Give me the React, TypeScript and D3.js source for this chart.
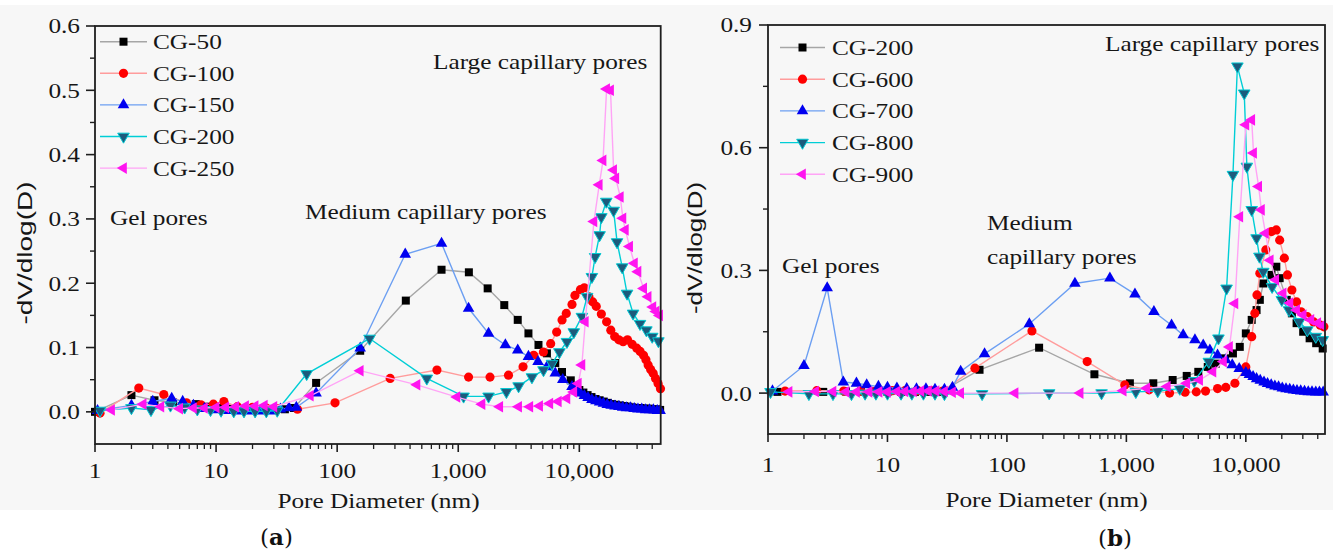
import React from 'react';
import * as d3 from 'd3';

type Pt = [number, number];

// ---------- Panel (a) data: [pore diameter (nm), -dV/dlog(D)] ----------
const A_CG50: Pt[] = [
  [1, 0], [2, 0.026], [3.1, 0.018], [4.4, 0.015], [5.5, 0.013], [6.8, 0.012], [8.5, 0.008], [10.5, 0.006],
  [13, 0.005], [16, 0.004], [20, 0.003], [25, 0.003], [31, 0.003], [37, 0.004], [44, 0.006], [67, 0.045],
  [155, 0.095], [369, 0.173], [728, 0.221], [1224, 0.217], [1750, 0.192], [2400, 0.166], [3100, 0.143],
  [3800, 0.122], [4600, 0.104], [5400, 0.091], [6330, 0.076], [7190, 0.062], [8500, 0.049], [9300, 0.039],
  [10000, 0.034], [10800, 0.03], [11700, 0.026], [12600, 0.023], [13600, 0.02], [14700, 0.018], [15900, 0.016],
  [17200, 0.014], [18600, 0.012], [20100, 0.011], [21700, 0.01], [23500, 0.009], [25400, 0.008], [27400, 0.007],
  [29600, 0.006], [32000, 0.006], [34600, 0.005], [37400, 0.005], [40400, 0.004], [43600, 0.004], [46500, 0.003],
];
const A_CG100: Pt[] = [
  [1.1, -0.002], [2.3, 0.037], [3.7, 0.027], [5.7, 0.014], [7.5, 0.011], [9.5, 0.012], [11.6, 0.016], [15, 0.008],
  [20, 0.007], [26, 0.006], [33, 0.005], [47, 0.004], [96, 0.014], [274, 0.052], [667, 0.065], [1217, 0.054],
  [1830, 0.054], [2600, 0.057], [3430, 0.07], [4200, 0.088], [5050, 0.093], [5800, 0.106], [6500, 0.124],
  [7200, 0.143], [7800, 0.153], [8700, 0.167], [9200, 0.181], [10200, 0.19], [11000, 0.193], [12000, 0.179],
  [12900, 0.171], [13800, 0.164], [15200, 0.152], [16800, 0.14], [18200, 0.127], [19600, 0.117], [21200, 0.112],
  [23000, 0.109], [25000, 0.112], [27300, 0.105], [29800, 0.099], [31800, 0.094], [33900, 0.088], [35500, 0.081],
  [37000, 0.073], [38800, 0.066], [40700, 0.06], [42600, 0.052], [44700, 0.044], [46800, 0.036],
];
const A_CG150: Pt[] = [
  [1.05, 0.002], [2, 0.01], [3, 0.016], [4.3, 0.021], [5.3, 0.016], [6.5, 0.01], [8, 0.005], [10, 0.003],
  [12.5, 0.002], [15.5, 0.001], [19, 0.001], [23, 0.001], [28, 0.001], [34, 0.004], [40, 0.006], [46, 0.007],
  [67, 0.029], [155, 0.099], [365, 0.245], [728, 0.262], [1217, 0.161], [1780, 0.122], [2450, 0.104],
  [3100, 0.096], [3800, 0.086], [4560, 0.078], [5400, 0.07], [6330, 0.06], [7300, 0.05], [8700, 0.039],
  [9500, 0.034], [10200, 0.029], [11000, 0.025], [11800, 0.022], [12700, 0.019], [13700, 0.017], [14700, 0.015],
  [15800, 0.013], [17000, 0.011], [18300, 0.01], [19700, 0.009], [21200, 0.008], [22800, 0.007], [24500, 0.006],
  [26400, 0.006], [28400, 0.005], [30500, 0.004], [32800, 0.004], [35300, 0.003], [38000, 0.003], [40900, 0.003],
  [44000, 0.002], [46500, 0.002],
];
const A_CG200: Pt[] = [
  [1.1, 0.002], [2, 0.006], [2.9, 0.003], [4.2, 0.01], [5.5, 0.007], [7, 0.004], [9, 0.003], [11, 0.002],
  [14, 0.001], [17, 0.001], [21, 0.001], [26, 0.001], [32, 0.002], [56, 0.059], [185, 0.114], [550, 0.052],
  [1107, 0.024], [1780, 0.024], [2500, 0.031], [3150, 0.04], [4060, 0.054], [5060, 0.065], [5950, 0.075],
  [6850, 0.093], [7900, 0.109], [9000, 0.124], [10500, 0.148], [11600, 0.179], [12700, 0.21], [13500, 0.241],
  [14700, 0.275], [15200, 0.303], [16700, 0.327], [19200, 0.313], [20500, 0.264], [22600, 0.225], [24800, 0.184],
  [27800, 0.153], [31700, 0.137], [35800, 0.127], [40000, 0.117], [45000, 0.11],
];
const A_CG250: Pt[] = [
  [1.37, 0.003], [2.5, 0.012], [3.5, 0.008], [5, 0.005], [6.5, 0.006], [8, 0.006], [10, 0.007], [12, 0.007],
  [14.5, 0.008], [17.5, 0.009], [21, 0.009], [25, 0.01], [30, 0.008], [60, 0.025], [155, 0.064], [456, 0.042],
  [975, 0.023], [1570, 0.012], [2200, 0.008], [3150, 0.008], [3900, 0.008], [4700, 0.009], [5700, 0.013],
  [6700, 0.016], [7900, 0.021], [9000, 0.031], [9800, 0.044], [10500, 0.073], [11200, 0.14], [13200, 0.296],
  [14600, 0.353], [15700, 0.391], [16800, 0.502], [18100, 0.5], [19200, 0.376], [20000, 0.363], [21800, 0.334],
  [22900, 0.301], [24000, 0.283], [26000, 0.257], [28500, 0.231], [30500, 0.218], [34000, 0.192], [37000, 0.179],
  [40500, 0.163], [43000, 0.156], [46000, 0.15],
];

// ---------- Panel (b) data ----------
const B_CG200: Pt[] = [
  [1.2, 0.003], [2.9, 0.003], [4.5, 0.004], [6, 0.004], [8, 0.004], [10, 0.003], [13, 0.003], [17, 0.003],
  [22, 0.003], [28, 0.003], [59, 0.057], [186, 0.111], [540, 0.046], [1070, 0.024], [1680, 0.024], [2440, 0.032],
  [3200, 0.042], [4000, 0.052], [4800, 0.064], [5600, 0.072], [6700, 0.085], [7800, 0.097], [8900, 0.113],
  [10000, 0.146], [11200, 0.179], [12300, 0.203], [13100, 0.228], [14000, 0.268], [16400, 0.289], [18000, 0.309],
  [19200, 0.281], [22000, 0.228], [24300, 0.195], [26600, 0.171], [30200, 0.15], [34200, 0.134], [38800, 0.122],
  [44000, 0.109],
];
const B_CG600: Pt[] = [
  [1.39, 0.005], [2.56, 0.006], [4.3, 0.005], [6, 0.005], [8, 0.005], [11, 0.006], [14, 0.006], [18, 0.006],
  [23, 0.006], [29, 0.005], [54, 0.061], [162, 0.152], [470, 0.077], [970, 0.02], [1550, 0.008], [2300, 0.0],
  [3100, 0.002], [3850, 0.003], [4600, 0.005], [5800, 0.011], [6800, 0.014], [8100, 0.024], [10000, 0.064],
  [11200, 0.138], [11900, 0.195], [12400, 0.24], [13100, 0.293], [14700, 0.35], [16400, 0.395], [18000, 0.399],
  [19200, 0.374], [21000, 0.33], [22300, 0.289], [24300, 0.252], [26600, 0.223], [29000, 0.199], [32700, 0.187],
  [37000, 0.174], [42000, 0.166], [45000, 0.162],
];
const B_CG700: Pt[] = [
  [1.09, 0.005], [2, 0.067], [3.13, 0.257], [4.27, 0.027], [5.5, 0.024], [6.7, 0.02], [8.4, 0.016], [10, 0.014],
  [12, 0.012], [14.5, 0.011], [17.5, 0.01], [21, 0.01], [25, 0.009], [30, 0.009], [35, 0.014], [41, 0.053],
  [65, 0.096], [154, 0.169], [371, 0.268], [728, 0.281], [1180, 0.242], [1700, 0.199], [2390, 0.166],
  [2990, 0.142], [3750, 0.13], [4400, 0.117], [5000, 0.105], [5800, 0.093], [6800, 0.081], [7700, 0.069],
  [8800, 0.06], [10000, 0.05], [10700, 0.045], [11500, 0.04], [12300, 0.035], [13200, 0.031], [14200, 0.027],
  [15200, 0.023], [16300, 0.02], [17500, 0.017], [18800, 0.015], [20200, 0.012], [21700, 0.01], [23300, 0.009],
  [25000, 0.007], [26800, 0.006], [28800, 0.005], [31000, 0.004], [33300, 0.003], [35800, 0.003], [38500, 0.002],
  [41300, 0.002], [44400, 0.002],
];
const B_CG800: Pt[] = [
  [1.05, 0.003], [2.2, -0.002], [3.5, -0.002], [5, -0.002], [6.5, -0.001], [8, -0.001], [10, -0.001], [13, -0.001],
  [16, -0.001], [20, -0.001], [25, -0.001], [30, -0.002], [62, -0.002], [226, 0], [620, 0], [1200, 0.003],
  [1830, 0.005], [2800, 0.011], [3700, 0.03], [4900, 0.077], [5900, 0.134], [6900, 0.256], [7800, 0.534],
  [8500, 0.799], [9700, 0.733], [10200, 0.554], [11200, 0.448], [12300, 0.379], [13000, 0.334], [14000, 0.297],
  [16600, 0.26], [20000, 0.228], [23000, 0.203], [28000, 0.174], [32700, 0.154], [38500, 0.138], [44000, 0.13],
];
const B_CG900: Pt[] = [
  [1.5, 0.003], [2.5, 0.004], [3.5, 0.004], [4.5, 0.003], [5.5, 0.003], [7, 0.003], [8.5, 0.003], [10, 0.003],
  [12, 0.004], [14, 0.004], [16.5, 0.004], [19, 0.005], [22, 0.005], [25.5, 0.005], [30, 0.004], [35, 0.002],
  [41, 0.0], [117, 0.0], [410, 0.0], [940, 0.006], [1480, 0.012], [2200, 0.016], [3200, 0.024], [4100, 0.032],
  [5300, 0.052], [6500, 0.077], [7300, 0.113], [8100, 0.219], [8900, 0.431], [10000, 0.656], [11200, 0.668],
  [11600, 0.587], [12800, 0.505], [13500, 0.448], [14600, 0.391], [16000, 0.325], [17800, 0.277], [20500, 0.244],
  [23400, 0.22], [26600, 0.203], [30200, 0.191], [35000, 0.179], [40000, 0.171], [44000, 0.166],
];

const A_NAMES = ['CG-50', 'CG-100', 'CG-150', 'CG-200', 'CG-250'];
const B_NAMES = ['CG-200', 'CG-600', 'CG-700', 'CG-800', 'CG-900'];
const X_TICKS = [1, 10, 100, 1000, 10000];
const A_Y_TICKS = [0, 0.1, 0.2, 0.3, 0.4, 0.5, 0.6];
const A_Y_MINOR = [0.05, 0.15, 0.25, 0.35, 0.45, 0.55];
const B_Y_TICKS = [0, 0.3, 0.6, 0.9];
const B_Y_MINOR = [0.15, 0.45, 0.75];

type Style = { shape: string; fill: string; stroke: string; line: string; size: number };
const STYLES: Style[] = [
  { shape: 'square', fill: '#000000', stroke: 'none', line: '#a6a6a6', size: 64 },
  { shape: 'circle', fill: '#ff0000', stroke: 'none', line: '#ff9c9c', size: 66 },
  { shape: 'up', fill: '#0000f0', stroke: 'none', line: '#6c9ff2', size: 58 },
  { shape: 'down', fill: '#1c5b7c', stroke: '#00c8d2', line: '#00ced6', size: 58 },
  { shape: 'left', fill: '#ff14f0', stroke: 'none', line: '#ffa4f6', size: 58 },
];

const SERIF = "'Liberation Serif','Times New Roman',Times,serif";
const SX = 1.15;

function T(props: { x: number; y: number; anchor?: string; size?: number; children: React.ReactNode }) {
  const { x, y, anchor = 'start', size = 22, children } = props;
  return (
    <text transform={`translate(${x},${y}) scale(${SX},1)`} textAnchor={anchor as any} dy="0.34em"
      fontFamily={SERIF} fontSize={size} fill="#161616">{children}</text>
  );
}

function symPath(shape: string, size: number) {
  const t = shape === 'square' ? d3.symbolSquare : shape === 'circle' ? d3.symbolCircle : d3.symbolTriangle;
  return d3.symbol().type(t).size(size)() as string;
}
function rot(shape: string) {
  return shape === 'down' ? 180 : shape === 'left' ? -90 : 0;
}

type PanelProps = {
  left: number; right: number; top: number; bottom: number;
  xMax: number; yMin: number; yMax: number;
  yTicks: number[]; yMinor: number[];
  series: Pt[][]; names: string[];
  legend: { x1: number; x2: number; tx: number; y0: number; dy: number };
  notes: { t: string; x: number; y: number }[];
  ylab: { x: number; y: number; len: number };
  xlab: { x: number; y: number };
  xTickY: number; yTickX: number;
  tag: { t: string; x: number; y: number };
};

function Panel(p: PanelProps) {
  const x = d3.scaleLog().domain([1, p.xMax]).range([p.left, p.right]);
  const y = d3.scaleLinear().domain([p.yMin, p.yMax]).range([p.bottom, p.top]);
  const line = d3.line<Pt>().x(d => x(d[0])).y(d => y(d[1]));
  const fmtX = d3.format(',');
  const minorX: number[] = [];
  X_TICKS.forEach(d => { for (let k = 2; k <= 9; k++) if (d * k <= p.xMax) minorX.push(d * k); });
  const axisColor = '#1e1e1e';
  return (
    <g>
      {/* series */}
      {p.series.map((s, i) => {
        const st = STYLES[i];
        const path = symPath(st.shape, st.size);
        return (
          <g key={i}>
            <path d={line(s) as string} fill="none" stroke={st.line} strokeWidth={1.4} />
            {s.map((d, j) => (
              <path key={j} d={path} transform={`translate(${x(d[0])},${y(d[1])}) rotate(${rot(st.shape)})`}
                fill={st.fill} stroke={st.stroke} strokeWidth={1} />
            ))}
          </g>
        );
      })}
      {/* frame */}
      <rect x={p.left} y={p.top} width={p.right - p.left} height={p.bottom - p.top} fill="none" stroke={axisColor} strokeWidth={1.8} />
      {/* y ticks */}
      {p.yTicks.map(v => (
        <g key={'y' + v}>
          <line x1={p.left - 9} x2={p.left} y1={y(v)} y2={y(v)} stroke={axisColor} strokeWidth={1.6} />
          <T x={p.yTickX} y={y(v)} anchor="end">{d3.format('.1f')(v)}</T>
        </g>
      ))}
      {p.yMinor.map(v => (
        <line key={'ym' + v} x1={p.left - 5} x2={p.left} y1={y(v)} y2={y(v)} stroke={axisColor} strokeWidth={1.4} />
      ))}
      {/* x ticks */}
      {X_TICKS.map(v => (
        <g key={'x' + v}>
          <line x1={x(v)} x2={x(v)} y1={p.bottom} y2={p.bottom + 8} stroke={axisColor} strokeWidth={1.6} />
          <T x={x(v)} y={p.xTickY} anchor="middle">{fmtX(v)}</T>
        </g>
      ))}
      {minorX.map(v => (
        <line key={'xm' + v} x1={x(v)} x2={x(v)} y1={p.bottom} y2={p.bottom + 5} stroke={axisColor} strokeWidth={1.3} />
      ))}
      {/* legend */}
      {p.names.map((n, i) => {
        const st = STYLES[i];
        const ly = p.legend.y0 + i * p.legend.dy;
        const mx = (p.legend.x1 + p.legend.x2) / 2;
        return (
          <g key={'lg' + i}>
            <line x1={p.legend.x1} x2={p.legend.x2} y1={ly} y2={ly} stroke={st.line} strokeWidth={1.4} />
            <path d={symPath(st.shape, st.size)} transform={`translate(${mx},${ly}) rotate(${rot(st.shape)})`}
              fill={st.fill} stroke={st.stroke} strokeWidth={1} />
            <T x={p.legend.tx} y={ly}>{n}</T>
          </g>
        );
      })}
      {/* annotations */}
      {p.notes.map((n, i) => <T key={'n' + i} x={n.x} y={n.y}>{n.t}</T>)}
      {/* axis titles */}
      <text transform={`translate(${p.ylab.x},${p.ylab.y}) rotate(-90)`} textAnchor="middle" dy="0.35em"
        fontFamily="'Liberation Sans',Arial,sans-serif" fontSize={20} textLength={p.ylab.len}
        lengthAdjust="spacingAndGlyphs" fill="#161616">-dV/dlog(D)</text>
      <T x={p.xlab.x} y={p.xlab.y} anchor="middle">Pore Diameter (nm)</T>
      <text x={p.tag.x} y={p.tag.y} textAnchor="middle" dy="0.35em" fontFamily="'DejaVu Serif',serif" fontSize={23} fill="#111">
        (<tspan fontWeight="bold">{p.tag.t}</tspan>)
      </text>
    </g>
  );
}

export default function App() {
  return (
    <svg width={1333} height={554} style={{ position: 'absolute', left: 0, top: 0, background: '#ffffff' }}
      xmlns="http://www.w3.org/2000/svg">
      <rect x={0} y={5} width={1333} height={505} fill="#f7f7f7" />
      <Panel
        left={95} right={660.7} top={26} bottom={444} xMax={47000} yMin={-0.05} yMax={0.6}
        yTicks={A_Y_TICKS} yMinor={A_Y_MINOR}
        series={[A_CG50, A_CG100, A_CG150, A_CG200, A_CG250]} names={A_NAMES}
        legend={{ x1: 100, x2: 147, tx: 153, y0: 41.7, dy: 31.6 }}
        notes={[
          { t: 'Gel pores', x: 110, y: 218 },
          { t: 'Medium capillary pores', x: 305, y: 211.7 },
          { t: 'Large capillary pores', x: 433, y: 61.7 },
        ]}
        ylab={{ x: 25, y: 253, len: 143 }}
        xlab={{ x: 378.5, y: 501 }}
        xTickY={471} yTickX={80}
        tag={{ t: 'a', x: 276.5, y: 537 }}
      />
      <Panel
        left={768} right={1325} top={25} bottom={434} xMax={46000} yMin={-0.1} yMax={0.9}
        yTicks={B_Y_TICKS} yMinor={B_Y_MINOR}
        series={[B_CG200, B_CG600, B_CG700, B_CG800, B_CG900]} names={B_NAMES}
        legend={{ x1: 780, x2: 825, tx: 832, y0: 47.5, dy: 31.7 }}
        notes={[
          { t: 'Gel pores', x: 782, y: 266 },
          { t: 'Medium', x: 987, y: 223 },
          { t: 'capillary pores', x: 987, y: 256.7 },
          { t: 'Large capillary pores', x: 1105, y: 43.3 },
        ]}
        ylab={{ x: 695, y: 248, len: 132 }}
        xlab={{ x: 1046.5, y: 500 }}
        xTickY={465} yTickX={752}
        tag={{ t: 'b', x: 1115, y: 538 }}
      />
    </svg>
  );
}
